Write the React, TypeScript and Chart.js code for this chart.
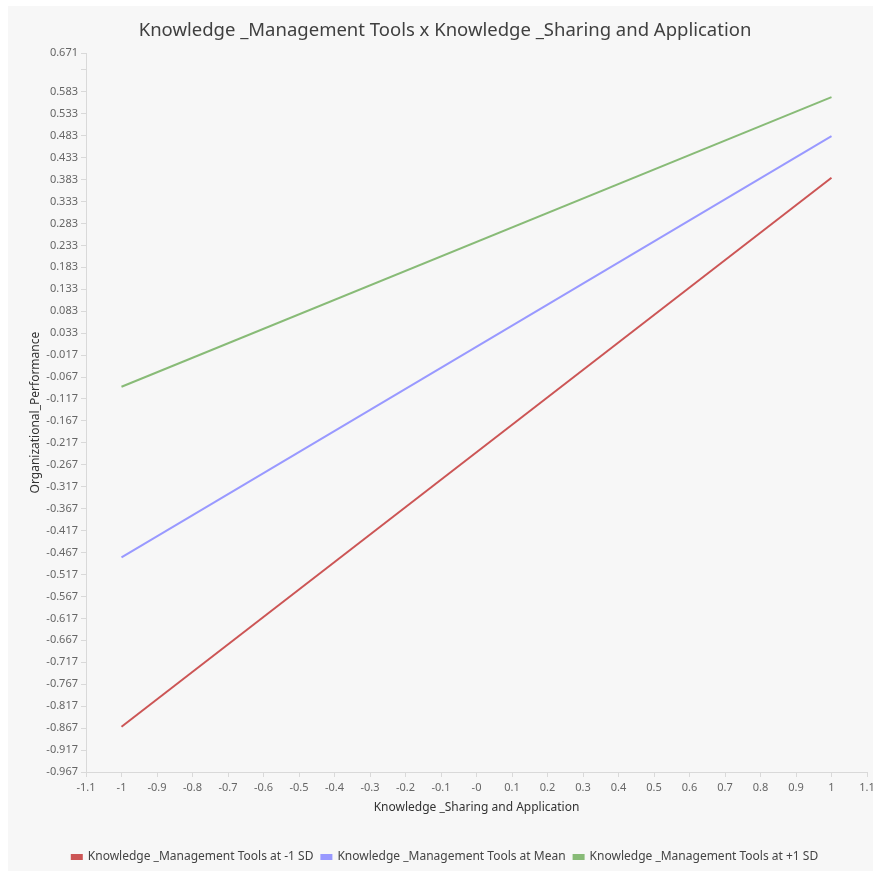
import React, { useEffect, useRef } from "react";
import { Chart, registerables } from "chart.js";

Chart.register(...registerables);

const chartTitle = "Knowledge _Management Tools x Knowledge _Sharing and Application";
const xAxisTitle = "Knowledge _Sharing and Application";
const yAxisTitle = "Organizational_Performance";

const xValues = [-1, 1];
const seriesNames = [
  "Knowledge _Management Tools at -1 SD",
  "Knowledge _Management Tools at Mean",
  "Knowledge _Management Tools at +1 SD",
];
const lowValues = [-0.864, 0.387];
const meanValues = [-0.478, 0.482];
const highValues = [-0.089, 0.571];
const seriesColors = ["#cc5555", "#9999ff", "#88bb77"];

const xTickValues = [-1.1, -1, -0.9, -0.8, -0.7, -0.6, -0.5, -0.4, -0.3, -0.2, -0.1, 0, 0.1, 0.2, 0.3, 0.4, 0.5, 0.6, 0.7, 0.8, 0.9, 1, 1.1];
const xTickLabels = ["-1.1", "-1", "-0.9", "-0.8", "-0.7", "-0.6", "-0.5", "-0.4", "-0.3", "-0.2", "-0.1", "-0", "0.1", "0.2", "0.3", "0.4", "0.5", "0.6", "0.7", "0.8", "0.9", "1", "1.1"];

const yTickValues = [0.671, 0.633, 0.583, 0.533, 0.483, 0.433, 0.383, 0.333, 0.283, 0.233, 0.183, 0.133, 0.083, 0.033, -0.017, -0.067, -0.117, -0.167, -0.217, -0.267, -0.317, -0.367, -0.417, -0.467, -0.517, -0.567, -0.617, -0.667, -0.717, -0.767, -0.817, -0.867, -0.917, -0.967];
const yTickLabels = ["0.671", "", "0.583", "0.533", "0.483", "0.433", "0.383", "0.333", "0.283", "0.233", "0.183", "0.133", "0.083", "0.033", "-0.017", "-0.067", "-0.117", "-0.167", "-0.217", "-0.267", "-0.317", "-0.367", "-0.417", "-0.467", "-0.517", "-0.567", "-0.617", "-0.667", "-0.717", "-0.767", "-0.817", "-0.867", "-0.917", "-0.967"];

const FONT = "'Noto Sans', 'Open Sans', sans-serif";

export default function App() {
  const canvasRef = useRef<HTMLCanvasElement | null>(null);

  useEffect(() => {
    if (!canvasRef.current) return;
    const allSeries = [lowValues, meanValues, highValues];
    const chart = new Chart(canvasRef.current, {
      type: "line",
      data: {
        datasets: allSeries.map((vals, i) => ({
          label: seriesNames[i],
          data: xValues.map((x, j) => ({ x, y: vals[j] })),
          borderColor: seriesColors[i],
          backgroundColor: seriesColors[i],
          borderWidth: 2,
          pointRadius: 0,
          fill: false,
          tension: 0,
        })),
      },
      options: {
        animation: false,
        responsive: false,
        maintainAspectRatio: false,
        layout: { padding: { left: 15, right: 15, top: 0, bottom: 0 } },
        plugins: {
          title: {
            display: true,
            text: chartTitle,
            color: "#404040",
            font: { family: FONT, size: 18.5, weight: "normal" },
            padding: { top: 14, bottom: 11 },
          },
          legend: {
            display: true,
            position: "bottom",
            labels: {
              color: "#444444",
              font: { family: FONT, size: 12 },
              boxWidth: 10,
              boxHeight: 4,
              padding: 8,
            },
          },
          tooltip: { enabled: false },
        },
        scales: {
          x: {
            type: "linear",
            min: -1.1,
            max: 1.1,
            afterBuildTicks: (scale: any) => {
              scale.ticks = xTickValues.map((v) => ({ value: v }));
            },
            afterFit: (scale: any) => {
              scale.height = 71;
            },
            ticks: {
              autoSkip: false,
              maxRotation: 0,
              color: "#666666",
              font: { family: FONT, size: 11 },
              padding: 4,
              callback: (_v: any, i: number) => xTickLabels[i],
            },
            grid: {
              display: true,
              drawOnChartArea: false,
              drawTicks: true,
              tickLength: 5,
              color: "#d9d9d9",
            },
            border: { display: true, color: "#d9d9d9" },
            title: {
              display: true,
              text: xAxisTitle,
              color: "#333333",
              font: { family: FONT, size: 12 },
              padding: { top: 0, bottom: 28 },
            },
          },
          y: {
            type: "linear",
            min: -0.967,
            max: 0.671,
            afterBuildTicks: (scale: any) => {
              scale.ticks = yTickValues.map((v) => ({ value: v }));
            },
            afterFit: (scale: any) => {
              scale.width = 63;
            },
            ticks: {
              autoSkip: false,
              color: "#666666",
              font: { family: FONT, size: 11 },
              padding: 3,
              callback: (_v: any, i: number) => yTickLabels[i],
            },
            grid: {
              display: true,
              drawOnChartArea: false,
              drawTicks: true,
              tickLength: 5,
              color: "#d9d9d9",
            },
            border: { display: true, color: "#d9d9d9" },
            title: {
              display: true,
              text: yAxisTitle,
              color: "#333333",
              font: { family: FONT, size: 12 },
              padding: { top: 5, bottom: 0 },
            },
          },
        },
      },
    });
    return () => chart.destroy();
  }, []);

  return (
    <div
      style={{
        position: "fixed",
        left: 8,
        top: 6,
        width: 865,
        height: 865,
        overflow: "hidden",
        background: "#f7f7f7",
      }}
    >
      <canvas ref={canvasRef} width={874} height={867} style={{ display: "block", width: 874, height: 867 }} />
    </div>
  );
}
